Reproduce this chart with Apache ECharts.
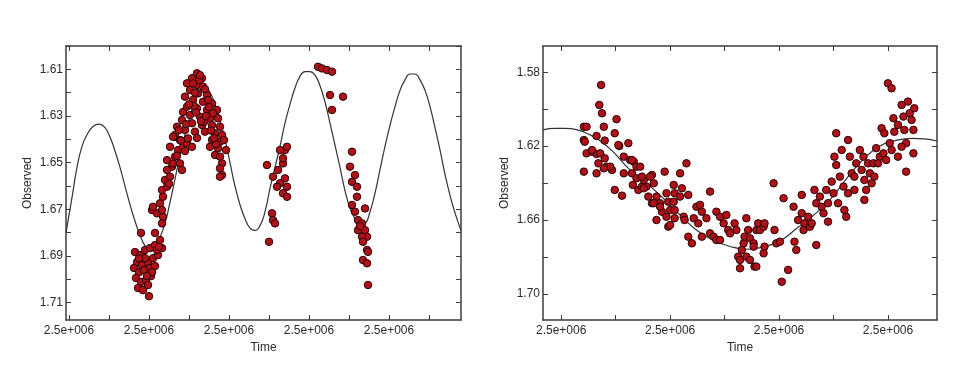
<!DOCTYPE html>
<html>
<head>
<meta charset="utf-8">
<script src="https://cdn.jsdelivr.net/npm/echarts@6/dist/echarts.min.js"></script>
<style>
  html, body { margin: 0; padding: 0; background: #fff; }
  #main { width: 960px; height: 378px; }
</style>
</head>
<body>
<div id="main"></div>
<script>
// ---- left panel ----
var leftXTicks = [2450000, 2450040, 2450080, 2450120, 2450160, 2450200, 2450240, 2450280, 2450320, 2450360];
var leftXLabels = [2450000, 2450080, 2450160, 2450240, 2450320];
var leftYTicks = [1.60, 1.61, 1.62, 1.63, 1.64, 1.65, 1.66, 1.67, 1.68, 1.69, 1.70, 1.71];
var leftYLabels = [1.61, 1.63, 1.65, 1.67, 1.69, 1.71];

var leftCurve = [
  [2449997, 1.680], [2450003, 1.665], [2450008, 1.652], [2450013, 1.643], [2450018, 1.638],
  [2450024, 1.6345], [2450030, 1.6335], [2450036, 1.635], [2450041, 1.639], [2450046, 1.645],
  [2450051, 1.652], [2450056, 1.660], [2450061, 1.668], [2450066, 1.675], [2450071, 1.681],
  [2450076, 1.6855], [2450081, 1.687], [2450086, 1.686], [2450091, 1.682], [2450096, 1.676],
  [2450101, 1.667], [2450106, 1.657], [2450111, 1.647], [2450116, 1.638], [2450121, 1.630],
  [2450126, 1.623], [2450131, 1.619], [2450136, 1.618], [2450141, 1.620], [2450146, 1.625],
  [2450151, 1.632], [2450156, 1.640], [2450161, 1.650], [2450166, 1.660], [2450171, 1.668],
  [2450176, 1.674], [2450181, 1.678], [2450186, 1.679], [2450191, 1.677], [2450196, 1.671],
  [2450201, 1.661], [2450206, 1.652], [2450211, 1.643], [2450216, 1.633], [2450221, 1.625],
  [2450226, 1.618], [2450231, 1.613], [2450236, 1.611], [2450241, 1.611], [2450246, 1.6125],
  [2450251, 1.617], [2450256, 1.624], [2450261, 1.633], [2450266, 1.6425], [2450271, 1.652],
  [2450276, 1.662], [2450281, 1.6695], [2450286, 1.674], [2450291, 1.6765], [2450296, 1.676],
  [2450301, 1.671], [2450306, 1.663], [2450311, 1.653], [2450316, 1.643], [2450321, 1.634],
  [2450326, 1.626], [2450331, 1.619], [2450336, 1.6145], [2450341, 1.612], [2450346, 1.612],
  [2450351, 1.6145], [2450356, 1.619], [2450361, 1.626], [2450366, 1.635], [2450371, 1.6445],
  [2450376, 1.655], [2450381, 1.664], [2450386, 1.6715], [2450392, 1.679]
];

var leftObs = [
  // minimum near 2450080
  [2450072, 1.6801], [2450086, 1.6801], [2450066, 1.6883], [2450071, 1.6896], [2450076, 1.6874],
  [2450081, 1.6866], [2450086, 1.6853], [2450091, 1.6831], [2450068, 1.6926], [2450073, 1.6939],
  [2450079, 1.6926], [2450084, 1.6909], [2450089, 1.6896], [2450065, 1.6951], [2450070, 1.6969],
  [2450075, 1.6960], [2450081, 1.6951], [2450086, 1.6943], [2450067, 1.6994], [2450072, 1.7011],
  [2450077, 1.7003], [2450082, 1.6986], [2450069, 1.7037], [2450074, 1.7046], [2450079, 1.7024],
  [2450080, 1.7072], [2450088, 1.6874], [2450093, 1.6866], [2450076, 1.6909], [2450083, 1.6969],
  [2450070, 1.6910], [2450078, 1.6985], [2450090, 1.6860],
  // rising branch
  [2450083, 1.6703], [2450091, 1.6674], [2450088, 1.6717], [2450094, 1.6732], [2450093, 1.6703],
  [2450094, 1.6646], [2450093, 1.6617], [2450098, 1.6603], [2450096, 1.6574], [2450101, 1.6560],
  [2450103, 1.6517], [2450098, 1.6531], [2450104, 1.6503], [2450106, 1.6474], [2450111, 1.6503],
  [2450113, 1.6531], [2450109, 1.6446], [2450114, 1.6432], [2450106, 1.6389], [2450118, 1.6417],
  [2450101, 1.6432], [2450111, 1.6403], [2450098, 1.6489], [2450093, 1.6760], [2450084, 1.6689],
  [2450100, 1.6590], [2450108, 1.6470], [2450116, 1.6450],
  // maximum near 2450130
  [2450128, 1.6117], [2450123, 1.6138], [2450133, 1.6138], [2450118, 1.6160], [2450128, 1.6167],
  [2450134, 1.6174], [2450121, 1.6189], [2450129, 1.6203], [2450138, 1.6210], [2450116, 1.6217],
  [2450124, 1.6231], [2450134, 1.6239], [2450143, 1.6246], [2450118, 1.6260], [2450128, 1.6267],
  [2450138, 1.6274], [2450148, 1.6274], [2450121, 1.6296], [2450131, 1.6303], [2450141, 1.6310],
  [2450149, 1.6310], [2450113, 1.6317], [2450123, 1.6331], [2450133, 1.6339], [2450143, 1.6339],
  [2450151, 1.6346], [2450108, 1.6346], [2450116, 1.6360], [2450126, 1.6367], [2450136, 1.6367],
  [2450146, 1.6374], [2450153, 1.6381], [2450106, 1.6381], [2450119, 1.6396], [2450143, 1.6403],
  [2450151, 1.6410], [2450123, 1.6432], [2450141, 1.6432], [2450149, 1.6438], [2450146, 1.6467],
  [2450151, 1.6474], [2450153, 1.6503], [2450151, 1.6524], [2450153, 1.6553], [2450104, 1.6389],
  [2450130, 1.6146], [2450139, 1.6231], [2450144, 1.6287], [2450114, 1.6283], [2450135, 1.6326],
  [2450128, 1.6394], [2450157, 1.6446], [2450155, 1.6403], [2450110, 1.6360], [2450125, 1.6257],
  [2450151, 1.6560], [2450120, 1.6250], [2450127, 1.6285], [2450132, 1.6322], [2450137, 1.6300],
  [2450142, 1.6362], [2450147, 1.6420], [2450117, 1.6335], [2450112, 1.6405], [2450136, 1.6185],
  [2450126, 1.6200], [2450140, 1.6262], [2450145, 1.6395], [2450131, 1.6125], [2450124, 1.6160],
  // group near 2450210
  [2450198, 1.6510], [2450204, 1.6560], [2450209, 1.6531], [2450214, 1.6503], [2450216, 1.6446],
  [2450218, 1.6432], [2450214, 1.6481], [2450216, 1.6567], [2450211, 1.6588], [2450218, 1.6603],
  [2450208, 1.6603], [2450214, 1.6631], [2450218, 1.6646], [2450203, 1.6717], [2450204, 1.6746],
  [2450206, 1.6760], [2450200, 1.6839], [2450211, 1.6446],
  // bright group near 2450255
  [2450249, 1.6089], [2450253, 1.6096], [2450258, 1.6103], [2450263, 1.6110], [2450261, 1.6210],
  [2450274, 1.6217], [2450263, 1.6274],
  // falling branch near 2450290
  [2450283, 1.6453], [2450281, 1.6517], [2450286, 1.6553], [2450283, 1.6582], [2450288, 1.6603],
  [2450288, 1.6646], [2450283, 1.6681], [2450286, 1.6710], [2450296, 1.6696], [2450289, 1.6746],
  [2450293, 1.6760], [2450289, 1.6789], [2450296, 1.6789], [2450298, 1.6817], [2450293, 1.6817],
  [2450294, 1.6839], [2450298, 1.6874], [2450294, 1.6917], [2450298, 1.6931], [2450299, 1.7024],
  [2450299, 1.6882], [2450291, 1.6771]
];

// ---- right panel ----
var rightXTicks = [2452000, 2452060, 2452120, 2452180, 2452240, 2452300, 2452360];
var rightXLabels = [2452000, 2452120, 2452240, 2452360];
var rightYTicks = [1.58, 1.60, 1.62, 1.64, 1.66, 1.68, 1.70];
var rightYLabels = [1.58, 1.62, 1.66, 1.70];

var rightCurve = [
  [2451980, 1.6112], [2451993, 1.6104], [2452004, 1.6104], [2452018, 1.6112], [2452032, 1.6139],
  [2452043, 1.6172], [2452057, 1.6230], [2452076, 1.6330], [2452094, 1.6400], [2452112, 1.6480],
  [2452131, 1.6573], [2452149, 1.6654], [2452167, 1.6708], [2452186, 1.6743], [2452205, 1.6758],
  [2452222, 1.6746], [2452241, 1.6713], [2452260, 1.6643], [2452277, 1.6578], [2452296, 1.6491],
  [2452315, 1.6372], [2452332, 1.6275], [2452351, 1.6199], [2452370, 1.6167], [2452387, 1.6158],
  [2452400, 1.6161], [2452414, 1.6172]
];

var rightObs = [
  [2452025, 1.6095], [2452028, 1.6095], [2452025, 1.6167], [2452028, 1.6239], [2452025, 1.6338],
  [2452044, 1.5869], [2452042, 1.5977], [2452045, 1.6022], [2452047, 1.6095], [2452039, 1.6145],
  [2452048, 1.6170], [2452034, 1.6230], [2452039, 1.6242], [2452043, 1.6239], [2452048, 1.6266],
  [2452041, 1.6293], [2452039, 1.6347], [2452050, 1.6311], [2452056, 1.6329], [2452061, 1.6054],
  [2452059, 1.6130], [2452064, 1.6199], [2452069, 1.6257], [2452059, 1.6437], [2452067, 1.6468],
  [2452074, 1.6184], [2452076, 1.6275], [2452069, 1.6347], [2452080, 1.6284], [2452083, 1.6311],
  [2452078, 1.6347], [2452083, 1.6374], [2452079, 1.6410], [2452085, 1.6437], [2452089, 1.6419],
  [2452091, 1.6383], [2452094, 1.6419], [2452100, 1.6356], [2452096, 1.6473], [2452100, 1.6509],
  [2452105, 1.6473], [2452105, 1.6600], [2452109, 1.6509], [2452111, 1.6555], [2452114, 1.6338],
  [2452116, 1.6455], [2452118, 1.6501], [2452120, 1.6546], [2452118, 1.6636], [2452124, 1.6410],
  [2452125, 1.6455], [2452125, 1.6590], [2452131, 1.6347], [2452133, 1.6428], [2452131, 1.6473],
  [2452135, 1.6582], [2452138, 1.6293], [2452140, 1.6464], [2452136, 1.6600], [2452140, 1.6690],
  [2452144, 1.6726], [2452146, 1.6590], [2452149, 1.6528], [2452153, 1.6518], [2452155, 1.6555],
  [2452151, 1.6618], [2452155, 1.6690], [2452160, 1.6590], [2452164, 1.6446], [2452164, 1.6672],
  [2452168, 1.6690], [2452171, 1.6708], [2452175, 1.6708], [2452171, 1.6555], [2452175, 1.6582],
  [2452179, 1.6618], [2452182, 1.6573], [2452184, 1.6654], [2452186, 1.6672], [2452191, 1.6618],
  [2452193, 1.6654], [2452195, 1.6798], [2452197, 1.6816], [2452199, 1.6762], [2452201, 1.6726],
  [2452202, 1.6690], [2452197, 1.6861], [2452204, 1.6590], [2452206, 1.6654], [2452208, 1.6699],
  [2452204, 1.6798], [2452208, 1.6816], [2452212, 1.6726], [2452215, 1.6654], [2452217, 1.6618],
  [2452219, 1.6654], [2452223, 1.6636], [2452224, 1.6618], [2452213, 1.6852], [2452212, 1.6744],
  [2452215, 1.6852], [2452223, 1.6780], [2452224, 1.6744], [2452234, 1.6401], [2452235, 1.6654],
  [2452237, 1.6726], [2452241, 1.6717], [2452245, 1.6482], [2452243, 1.6934], [2452250, 1.6870],
  [2452256, 1.6528], [2452257, 1.6717], [2452259, 1.6762], [2452261, 1.6600], [2452265, 1.6464],
  [2452265, 1.6563], [2452267, 1.6654], [2452268, 1.6618], [2452272, 1.6582], [2452274, 1.6636],
  [2452276, 1.6618], [2452279, 1.6437], [2452281, 1.6509], [2452281, 1.6735], [2452285, 1.6473],
  [2452287, 1.6528], [2452289, 1.6563], [2452292, 1.6437], [2452294, 1.6509], [2452294, 1.6609],
  [2452298, 1.6392], [2452300, 1.6455], [2452303, 1.6130], [2452301, 1.6257], [2452303, 1.6302],
  [2452305, 1.6509], [2452307, 1.6365], [2452309, 1.6221], [2452311, 1.6419], [2452312, 1.6546],
  [2452314, 1.6582], [2452316, 1.6167], [2452318, 1.6257], [2452316, 1.6455], [2452320, 1.6347],
  [2452323, 1.6365], [2452325, 1.6293], [2452323, 1.6437], [2452329, 1.6221], [2452331, 1.6329],
  [2452333, 1.6257], [2452334, 1.6383], [2452336, 1.6437], [2452334, 1.6491], [2452338, 1.6293],
  [2452340, 1.6347], [2452342, 1.6401], [2452344, 1.6293], [2452345, 1.6365], [2452347, 1.6211],
  [2452351, 1.6257], [2452349, 1.6293], [2452353, 1.6103], [2452356, 1.6130], [2452355, 1.6239],
  [2452358, 1.6275], [2452362, 1.6184], [2452364, 1.6221], [2452360, 1.5860], [2452364, 1.5887],
  [2452366, 1.6049], [2452367, 1.6122], [2452371, 1.6257], [2452371, 1.6085], [2452375, 1.5977],
  [2452377, 1.6040], [2452378, 1.6112], [2452380, 1.6338], [2452382, 1.5959], [2452384, 1.6022],
  [2452386, 1.6058], [2452388, 1.6112], [2452389, 1.5995], [2452388, 1.6239], [2452380, 1.6184],
  [2452375, 1.6203],
  [2452026, 1.6176], [2452034, 1.6221], [2452054, 1.6311], [2452047, 1.6320], [2452063, 1.6194],
  [2452078, 1.6275], [2452087, 1.6311], [2452089, 1.6365], [2452098, 1.6365], [2452102, 1.6401],
  [2452091, 1.6428], [2452102, 1.6509], [2452109, 1.6528], [2452124, 1.6501], [2452125, 1.6546],
  [2452116, 1.6582], [2452120, 1.6627]
];

var textColor = '#2b2b2b';
var frameColor = '#3c3c3c';
var font = 'Liberation Sans';

function xLabelText() { return '2.5e+006'; }
function yLabelText(v) { return v.toFixed(2); }

function bottomAxis(grid, min, max, ticks, labels) {
  return {
    type: 'value', gridIndex: grid, position: 'bottom', min: min, max: max,
    name: 'Time', nameLocation: 'middle', nameGap: 20,
    nameTextStyle: { color: textColor, fontFamily: font, fontSize: 12 },
    axisLine: { onZero: false, lineStyle: { color: frameColor, width: 1.5 } },
    axisTick: { inside: true, length: 5, customValues: ticks, lineStyle: { color: frameColor } },
    axisLabel: { customValues: labels, formatter: xLabelText, margin: 5,
                 color: textColor, fontFamily: font, fontSize: 12 },
    splitLine: { show: false }
  };
}
function topAxis(grid, min, max, ticks) {
  return {
    type: 'value', gridIndex: grid, position: 'top', min: min, max: max,
    axisLine: { onZero: false, lineStyle: { color: frameColor, width: 1.5 } },
    axisTick: { inside: true, length: 5, customValues: ticks, lineStyle: { color: frameColor } },
    axisLabel: { show: false },
    splitLine: { show: false }
  };
}
function leftAxis(grid, min, max, ticks, labels) {
  return {
    type: 'value', gridIndex: grid, position: 'left', inverse: true, min: min, max: max,
    name: 'Observed', nameLocation: 'middle', nameGap: 32,
    nameTextStyle: { color: textColor, fontFamily: font, fontSize: 12 },
    axisLine: { show: true, onZero: false, lineStyle: { color: frameColor, width: 1.5 } },
    axisTick: { show: true, inside: true, length: 5, customValues: ticks, lineStyle: { color: frameColor } },
    axisLabel: { customValues: labels, formatter: yLabelText, margin: 3,
                 color: textColor, fontFamily: font, fontSize: 12 },
    splitLine: { show: false }
  };
}
function rightAxis(grid, min, max, ticks) {
  return {
    type: 'value', gridIndex: grid, position: 'right', inverse: true, min: min, max: max,
    axisLine: { show: true, onZero: false, lineStyle: { color: frameColor, width: 1.5 } },
    axisTick: { show: true, inside: true, length: 5, customValues: ticks, lineStyle: { color: frameColor } },
    axisLabel: { show: false },
    splitLine: { show: false }
  };
}

var dotStyle = { color: '#b0121a', borderColor: '#2a0303', borderWidth: 1, opacity: 1 };
var curveStyle = { color: '#333', width: 1.2 };

var option = {
  backgroundColor: '#fff',
  animation: false,
  grid: [
    { left: 66, top: 46, width: 395, height: 274 },
    { left: 543, top: 46, width: 394, height: 274 }
  ],
  xAxis: [
    bottomAxis(0, 2449997, 2450392, leftXTicks, leftXLabels),
    topAxis(0, 2449997, 2450392, leftXTicks),
    bottomAxis(1, 2451980, 2452414, rightXTicks, rightXLabels),
    topAxis(1, 2451980, 2452414, rightXTicks)
  ],
  yAxis: [
    leftAxis(0, 1.60, 1.7174, leftYTicks, leftYLabels),
    rightAxis(0, 1.60, 1.7174, leftYTicks),
    leftAxis(1, 1.5658, 1.7141, rightYTicks, rightYLabels),
    rightAxis(1, 1.5658, 1.7141, rightYTicks)
  ],
  series: [
    { type: 'line', xAxisIndex: 0, yAxisIndex: 0, data: leftCurve, smooth: true,
      showSymbol: false, lineStyle: curveStyle, z: 1 },
    { type: 'scatter', xAxisIndex: 0, yAxisIndex: 0, data: leftObs, symbol: 'circle',
      symbolSize: 7.5, itemStyle: dotStyle, z: 2 },
    { type: 'line', xAxisIndex: 2, yAxisIndex: 2, data: rightCurve, smooth: true,
      showSymbol: false, lineStyle: curveStyle, z: 1 },
    { type: 'scatter', xAxisIndex: 2, yAxisIndex: 2, data: rightObs, symbol: 'circle',
      symbolSize: 7.5, itemStyle: dotStyle, z: 2 }
  ]
};

var chart = echarts.init(document.getElementById('main'), null, { renderer: 'canvas' });
chart.setOption(option);
</script>
</body>
</html>
